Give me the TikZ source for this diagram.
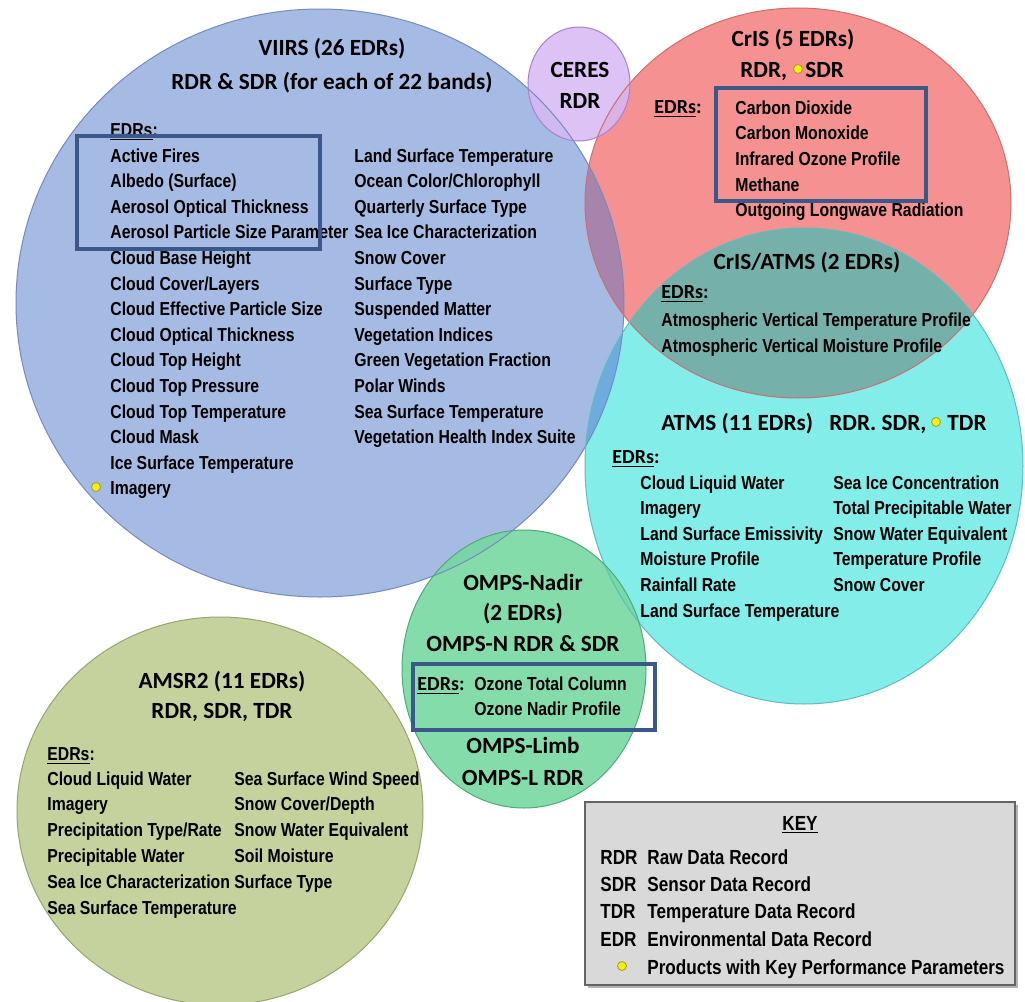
\documentclass[tikz,border=0pt]{standalone}
\usepackage{fontspec}
\setmainfont{Liberation Sans}
\newfontfamily\headfont{Carlito}
\newfontfamily\itemfont{Liberation Sans}[FakeStretch=0.84]

\definecolor{viirsfill}{RGB}{166,187,228}
\definecolor{viirsedge}{RGB}{118,138,190}
\definecolor{crisfill}{RGB}{246,145,145}
\definecolor{crisedge}{RGB}{205,110,110}
\definecolor{atmsfill}{RGB}{130,237,233}
\definecolor{atmsedge}{RGB}{90,190,190}
\definecolor{ceresfill}{RGB}{216,184,244}
\definecolor{ceresedge}{RGB}{168,128,210}
\definecolor{ompsfill}{RGB}{116,216,160}
\definecolor{ompsedge}{RGB}{80,170,120}
\definecolor{amsrfill}{RGB}{198,210,158}
\definecolor{amsredge}{RGB}{150,165,110}
\definecolor{vcfill}{RGB}{168,132,172}
\definecolor{vafill}{RGB}{110,172,222}
\definecolor{cafill}{RGB}{118,176,170}
\definecolor{hiblue}{RGB}{58,88,138}
\definecolor{keyfill}{RGB}{217,217,217}
\definecolor{keyedge}{RGB}{100,100,100}
\definecolor{kppyellow}{RGB}{245,238,20}
\definecolor{kppedge}{RGB}{165,155,40}

\newcommand\viirspath{(320,303) ellipse [x radius=304, y radius=294]}
\newcommand\crispath{(798,203) ellipse [x radius=213, y radius=195]}
\newcommand\atmspath{(804,466) ellipse [x radius=219, y radius=238]}
\newcommand\cerespath{(579,84) ellipse [x radius=51, y radius=57]}
\newcommand\ompspath{(524,669) ellipse [x radius=122, y radius=139]}
\newcommand\amsrpath{(220,811) ellipse [x radius=203, y radius=194]}

\tikzset{
  headtxt/.style={font=\headfont\bfseries\fontsize{11.6}{14}\selectfont, inner sep=0pt, anchor=base},
  edrhead/.style={font=\headfont\bfseries\fontsize{10}{12}\selectfont, inner sep=0pt, anchor=base west},
  edrtxt/.style={font=\itemfont\bfseries\fontsize{9.4}{11}\selectfont, inner sep=0pt, anchor=base west},
  keytxt/.style={edrtxt, font=\itemfont\bfseries\fontsize{10.2}{12}\selectfont},
  hilite/.style={draw=hiblue, line width=2pt},
  kpp/.style={circle, draw=kppedge, fill=kppyellow, line width=0.4pt, inner sep=0pt, minimum size=4.5pt},
  rim/.style={line width=0.5pt}
}

\begin{document}
\begin{tikzpicture}[x=0.5pt, y=-0.5pt]
\useasboundingbox (0,0) rectangle (1025,1002);
\fill[white] (0,0) rectangle (1025,1002);

% instrument circles
\fill[amsrfill] \amsrpath;
\fill[viirsfill] \viirspath;
\fill[crisfill] \crispath;
\fill[atmsfill] \atmspath;
\begin{scope}
  \clip \viirspath;
  \fill[vcfill] \crispath;
  \fill[vafill] \atmspath;
\end{scope}
\begin{scope}
  \clip \crispath;
  \fill[cafill] \atmspath;
\end{scope}
\fill[ompsfill, fill opacity=0.88] \ompspath;
\fill[ceresfill, fill opacity=0.85] \cerespath;
\draw[amsredge, rim] \amsrpath;
\draw[viirsedge, rim] \viirspath;
\draw[crisedge, rim] \crispath;
\draw[atmsedge, rim] \atmspath;
\draw[ompsedge, rim] \ompspath;
\draw[ceresedge, rim] \cerespath;

% VIIRS
\node[headtxt] (viirs) at (332,55) {VIIRS (26 EDRs)};
\node[headtxt] (viirsrdr) at (332,89) {RDR \& SDR (for each of 22 bands)};
\node[edrtxt] (viirsedr) at (110,136) {\underline{EDRs}:};
\foreach \t [count=\i from 0] in {Active Fires, Albedo (Surface), Aerosol Optical Thickness,
    Aerosol Particle Size Parameter, Cloud Base Height, Cloud Cover/Layers,
    Cloud Effective Particle Size, Cloud Optical Thickness, Cloud Top Height,
    Cloud Top Pressure, Cloud Top Temperature, Cloud Mask, Ice Surface Temperature, Imagery}
  \node[edrtxt] (vl\i) at (110,{162+25.6*\i}) {\t};
\foreach \t [count=\i from 0] in {Land Surface Temperature, Ocean Color/Chlorophyll,
    Quarterly Surface Type, Sea Ice Characterization, Snow Cover, Surface Type,
    Suspended Matter, Vegetation Indices, Green Vegetation Fraction, Polar Winds,
    Sea Surface Temperature, Vegetation Health Index Suite}
  \node[edrtxt] (vr\i) at (354,{162+25.6*\i}) {\t};
\node[kpp] (vkpp) at (96,487) {};

% CERES
\node[headtxt] (ceres) at (580,77) {CERES};
\node[headtxt] (ceresrdr) at (580,108) {RDR};

% CrIS
\node[headtxt] (cris) at (793,46) {CrIS (5 EDRs)};
\node[headtxt, anchor=base west] (crisrdr) at (740,77) {RDR,};
\node[kpp] (criskpp) at (798,69) {};
\node[headtxt, anchor=base west] (crissdr) at (805,77) {SDR};
\node[edrhead] (crisedr) at (654,113) {\underline{EDRs}:};
\foreach \t [count=\i from 0] in {Carbon Dioxide, Carbon Monoxide, Infrared Ozone Profile,
    Methane, Outgoing Longwave Radiation}
  \node[edrtxt] (cl\i) at (735,{114+25.7*\i}) {\t};

% CrIS/ATMS
\node[headtxt] (crisatms) at (807,269) {CrIS/ATMS (2 EDRs)};
\node[edrhead] (caedr) at (661,298) {\underline{EDRs}:};
\node[edrtxt] (ca0) at (661,326) {Atmospheric Vertical Temperature Profile};
\node[edrtxt] (ca1) at (661,352) {Atmospheric Vertical Moisture Profile};

% ATMS
\node[headtxt, anchor=base west] (atms) at (661,430) {ATMS (11 EDRs)};
\node[headtxt, anchor=base west] (atmsrdr) at (829,430) {RDR. SDR,};
\node[kpp] (atmskpp) at (936,422) {};
\node[headtxt, anchor=base west] (atmstdr) at (947,430) {TDR};
\node[edrhead] (atmsedr) at (612,463) {\underline{EDRs}:};
\foreach \t [count=\i from 0] in {Cloud Liquid Water, Imagery, Land Surface Emissivity,
    Moisture Profile, Rainfall Rate, Land Surface Temperature}
  \node[edrtxt] (al\i) at (640,{489+25.6*\i}) {\t};
\foreach \t [count=\i from 0] in {Sea Ice Concentration, Total Precipitable Water,
    Snow Water Equivalent, Temperature Profile, Snow Cover}
  \node[edrtxt] (ar\i) at (833,{489+25.6*\i}) {\t};

% OMPS
\node[headtxt] (ompsn) at (523,590) {OMPS-Nadir};
\node[headtxt] (ompsnum) at (523,620) {(2 EDRs)};
\node[headtxt] (ompsnrdr) at (523,651) {OMPS-N RDR \& SDR};
\node[edrhead] (ompsedr) at (417,690) {\underline{EDRs}:};
\node[edrtxt] (om0) at (474,690) {Ozone Total Column};
\node[edrtxt] (om1) at (474,715) {Ozone Nadir Profile};
\node[headtxt] (ompsl) at (523,753) {OMPS-Limb};
\node[headtxt] (ompslrdr) at (523,785) {OMPS-L RDR};

% AMSR2
\node[headtxt] (amsr) at (222,688) {AMSR2 (11 EDRs)};
\node[headtxt] (amsrrdr) at (222,718) {RDR, SDR, TDR};
\node[edrtxt] (amsredr) at (47,760) {\underline{EDRs}:};
\foreach \t [count=\i from 0] in {Cloud Liquid Water, Imagery, Precipitation Type/Rate,
    Precipitable Water, Sea Ice Characterization, Sea Surface Temperature}
  \node[edrtxt] (ml\i) at (47,{785+25.8*\i}) {\t};
\foreach \t [count=\i from 0] in {Sea Surface Wind Speed, Snow Cover/Depth,
    Snow Water Equivalent, Soil Moisture, Surface Type}
  \node[edrtxt] (mr\i) at (234,{785+25.8*\i}) {\t};

% highlighted EDR groups
\draw[hilite] (77,136) rectangle (320,249);
\draw[hilite] (716,88) rectangle (926,201);
\draw[hilite] (413,664) rectangle (655,730);

% key
\fill[black!30] (588,805) rectangle (1018,988);
\draw[fill=keyfill, draw=keyedge, line width=1pt] (585,802) rectangle (1015,985);
\node[keytxt, anchor=base] (key) at (800,830) {\underline{KEY}};
\foreach \a/\d [count=\i from 0] in {RDR/Raw Data Record, SDR/Sensor Data Record,
    TDR/Temperature Data Record, EDR/Environmental Data Record}
{
  \node[keytxt] (ka\i) at (600,{864+27.4*\i}) {\a};
  \node[keytxt] (kd\i) at (647,{864+27.4*\i}) {\d};
}
\node[kpp] (keykpp) at (622,966) {};
\node[keytxt] (kd4) at (647,974) {Products with Key Performance Parameters};
\end{tikzpicture}
\end{document}
